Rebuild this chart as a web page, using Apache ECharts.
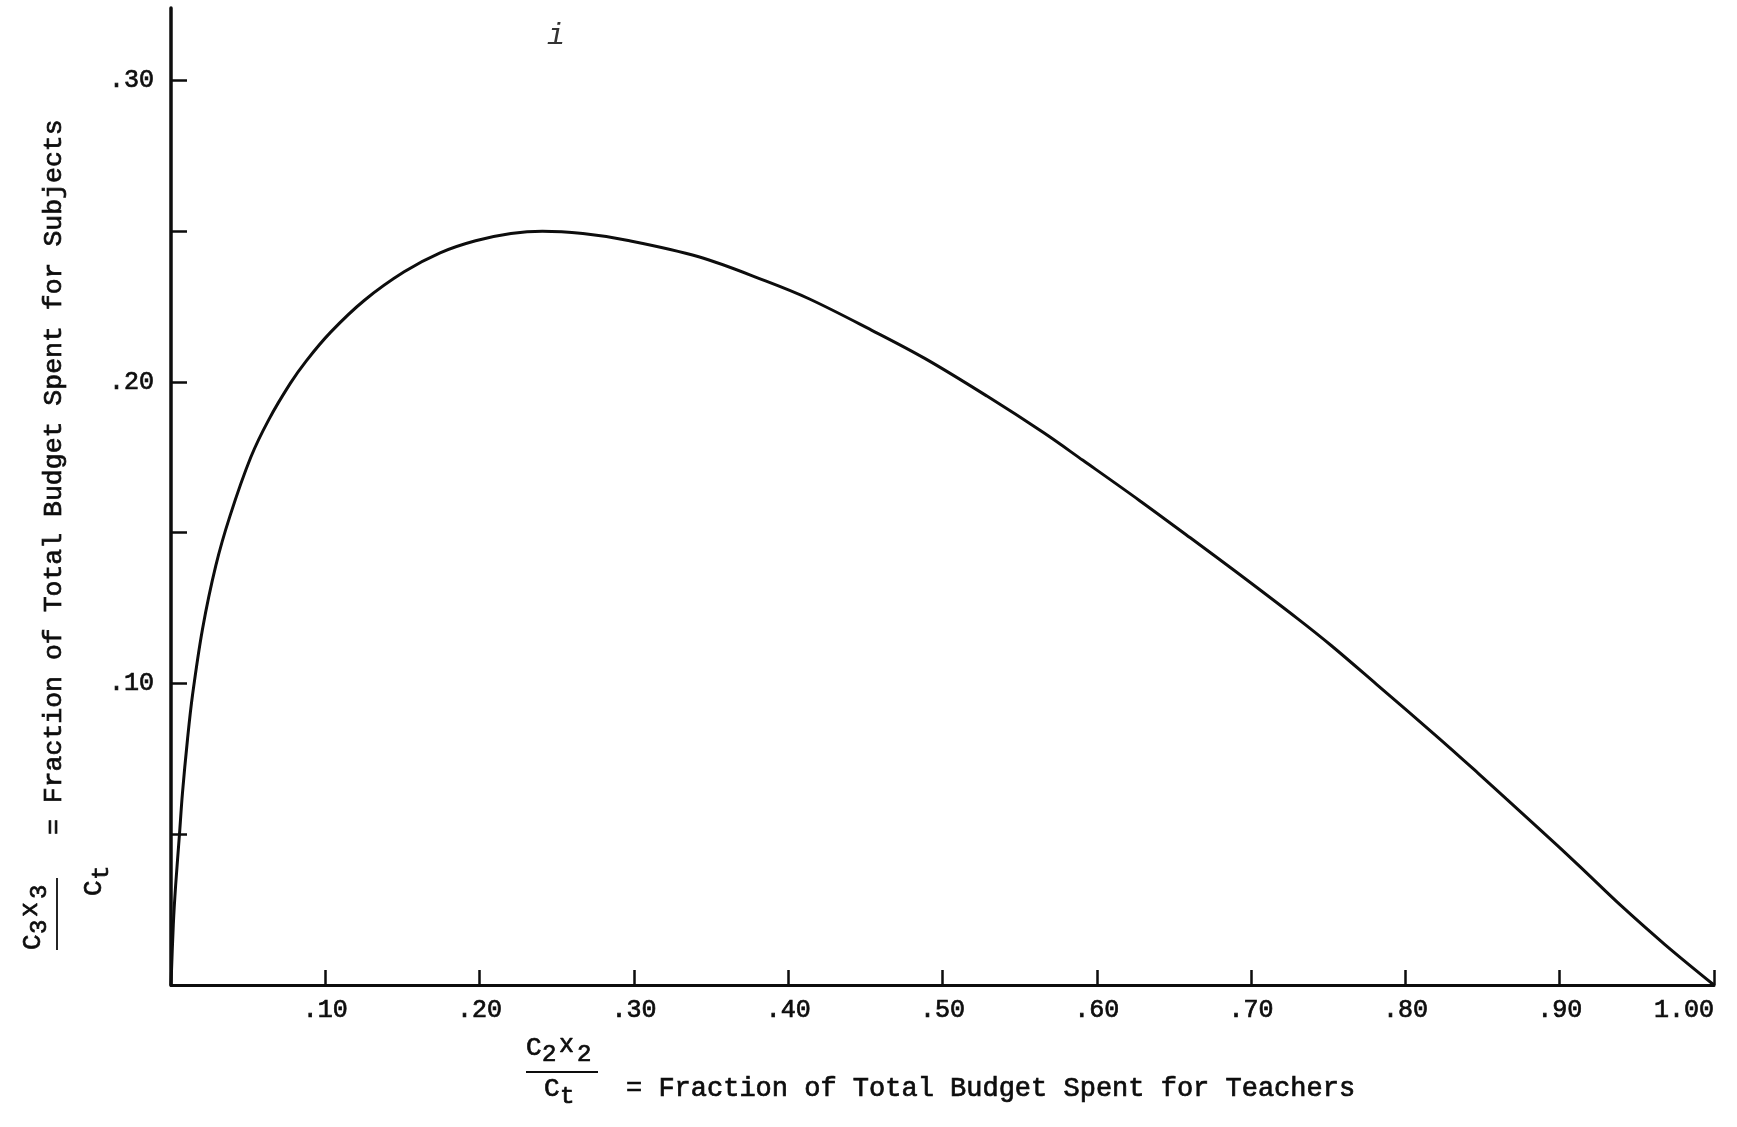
<!DOCTYPE html>
<html>
<head>
<meta charset="utf-8">
<script src="https://cdn.jsdelivr.net/npm/echarts@6/dist/echarts.min.js"></script>
<style>
  html, body { margin: 0; padding: 0; background: #ffffff; }
  #chart { width: 1737px; height: 1127px; }
</style>
</head>
<body>
<div id="chart"></div>
<script>
// Share of the total budget spent on teachers (x) and on subjects (y)
const teacherShare = [
  0.000, 0.0015, 0.003, 0.0055, 0.0074, 0.0107, 0.0139, 0.0204, 0.0290, 0.0382,
  0.0517, 0.0634, 0.0773, 0.0877, 0.1035, 0.1252, 0.1511, 0.1744, 0.1974, 0.2203,
  0.2407, 0.2669, 0.2954, 0.3420, 0.3853, 0.4138, 0.4539, 0.4885, 0.5288, 0.5654,
  0.5910, 0.6276, 0.6606, 0.6898, 0.7301, 0.7521, 0.7813, 0.8216, 0.8472, 0.8654,
  0.8984, 0.9167, 0.9387, 0.9680, 1.000
];
const subjectShare = [
  0.000, 0.020, 0.033, 0.050, 0.0635, 0.0815, 0.096, 0.118, 0.139, 0.1555,
  0.175, 0.1875, 0.1995, 0.2070, 0.2165, 0.2270, 0.2365, 0.2428, 0.2468, 0.2492,
  0.2500, 0.2492, 0.2470, 0.2415, 0.2335, 0.2275, 0.2172, 0.2078, 0.1953, 0.1832,
  0.1740, 0.1607, 0.1483, 0.1372, 0.1215, 0.1125, 0.0997, 0.0819, 0.0702, 0.0617,
  0.0463, 0.0375, 0.0268, 0.0135, 0.000
];

// Axis ticks and labels
const yTickValues = [0.05, 0.10, 0.15, 0.20, 0.25, 0.30];
const yLabelValues = [0.10, 0.20, 0.30];
const xTitleText = '= Fraction of Total Budget Spent for Teachers';
const yTitleText = '= Fraction of Total Budget Spent for Subjects';

const FONT = "'Liberation Mono', 'DejaVu Sans Mono', monospace";
const INK = '#0d0d0d';

const curve = teacherShare.map((x, i) => [x, subjectShare[i]]);

function fmt(v) {
  const s = v.toFixed(2);
  return v >= 1 ? s : s.replace(/^0/, '');
}

// Typewritten fraction  C_n x_n / C_t  followed by the axis description
function fractionTitle(o) {
  const t = (text, x, y, size) => ({
    type: 'text', x: x, y: y, silent: true,
    style: { text: text, font: size + 'px ' + FONT, fill: INK,
             stroke: INK, lineWidth: 0.7,
             textAlign: 'left', textVerticalAlign: 'middle' }
  });
  return {
    type: 'group', x: o.x, y: o.y, rotation: o.rotation, silent: true,
    children: [
      t('C', 0, -24, 26),
      t(o.sub, 16, -17, 24),
      t('x', 33, -27, 25),
      t(o.sub, 51, -17, 24),
      { type: 'line', silent: true,
        shape: { x1: 0, y1: 0, x2: 72, y2: 0 },
        style: { stroke: INK, lineWidth: 1.8 } },
      t('C', o.denU, o.denV, 26),
      t('t', o.denU + 16, o.denV + 8, 24),
      t(o.text, o.textU, o.textV, o.textSize)
    ]
  };
}

const chart = echarts.init(document.getElementById('chart'), null, { renderer: 'canvas' });

const labelStyle = {
  color: INK, fontFamily: FONT, fontSize: 25,
  textBorderColor: INK, textBorderWidth: 0.7,
  formatter: fmt
};

chart.setOption({
  backgroundColor: '#ffffff',
  animation: false,
  grid: { left: 171, right: 23, top: 8, bottom: 142, containLabel: false },
  xAxis: {
    type: 'value',
    min: 0, max: 1, interval: 0.1,
    axisLine: { show: true, onZero: false, lineStyle: { color: INK, width: 3 } },
    axisTick: { show: true, inside: true, length: 15, lineStyle: { color: INK, width: 2.5 } },
    axisLabel: Object.assign({
      show: true, showMinLabel: false, alignMaxLabel: 'right', margin: 13
    }, labelStyle),
    splitLine: { show: false }
  },
  yAxis: {
    type: 'value',
    min: 0, max: 0.324,
    axisLine: { show: true, onZero: false, lineStyle: { color: INK, width: 3.5 } },
    axisTick: { show: true, inside: true, length: 16, customValues: yTickValues,
                lineStyle: { color: INK, width: 2.5 } },
    axisLabel: Object.assign({
      show: true, customValues: yLabelValues, margin: 17
    }, labelStyle),
    splitLine: { show: false }
  },
  series: [{
    type: 'line',
    data: curve,
    smooth: 0.35,
    showSymbol: false,
    symbol: 'none',
    lineStyle: { color: INK, width: 3 },
    silent: true
  }],
  graphic: [
    fractionTitle({ x: 526, y: 1072, rotation: 0, sub: '2',
                    denU: 18, denV: 17,
                    text: xTitleText, textU: 100, textV: 17, textSize: 27 }),
    fractionTitle({ x: 57, y: 950, rotation: Math.PI / 2, sub: '3',
                    denU: 54, denV: 37,
                    text: yTitleText, textU: 115, textV: -3, textSize: 26.5 }),
    { type: 'text', x: 556, y: 36, silent: true,
      style: { text: 'i', font: 'italic 30px ' + FONT, fill: '#333333',
               textAlign: 'center', textVerticalAlign: 'middle' } }
  ]
});
</script>
</body>
</html>
